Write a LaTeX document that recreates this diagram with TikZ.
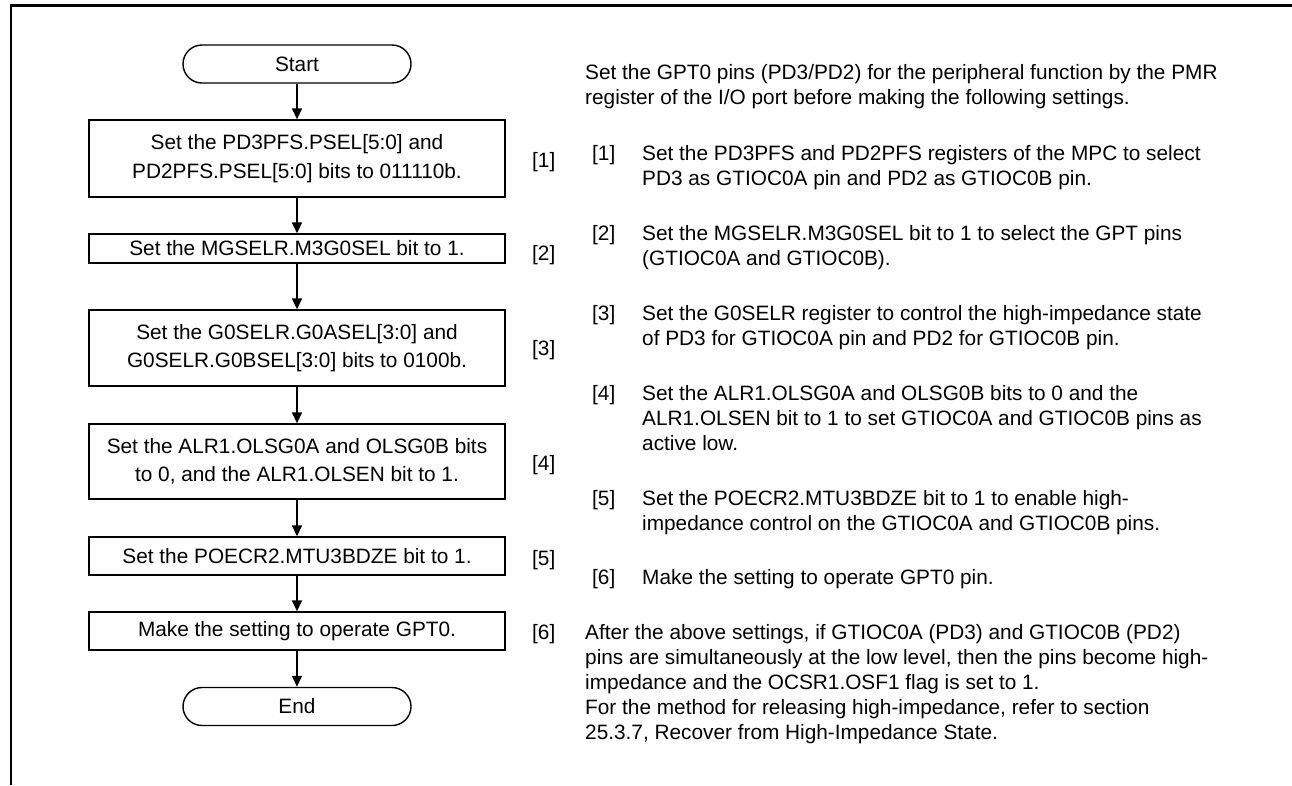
\documentclass[tikz,border=0pt]{standalone}
\usepackage{fontspec}
\setmainfont{Liberation Sans}
\usetikzlibrary{arrows.meta}
\newcommand{\bodyfont}{\fontsize{20.8}{25}\selectfont}
\newcommand{\boxfont}{\fontsize{20.8}{28.5}\selectfont}
\newcommand{\lines}[1]{\begin{tabular}[t]{@{}l@{}}#1\end{tabular}}
\tikzset{
  term/.style={draw, line width=1.4pt, rounded corners=19pt, minimum width=228pt,
    minimum height=38pt, inner sep=0pt, font=\boxfont},
  proc/.style={draw, line width=1.4pt, minimum width=416pt, align=center,
    inner sep=0pt, font=\boxfont},
  flow/.style={-{Triangle[length=11pt,width=10pt]}, line width=1.6pt},
  txt/.style={anchor=base west, inner sep=0pt, font=\bodyfont},
  frame/.style={line width=2.6pt}
}
\begin{document}
\begin{tikzpicture}[x=1pt,y=-1pt]
\useasboundingbox (0,0) rectangle (1292,785);
\draw[frame] (1292,5.5) -- (11,5.5) -- (11,785);

% flowchart
\node[term] (start) at (297,64) {Start};
\node[proc, minimum height=77pt] (b1) at (297,158.5) {Set the PD3PFS.PSEL[5:0] and\\PD2PFS.PSEL[5:0] bits to 011110b.};
\node[proc, minimum height=29pt] (b2) at (297,248.5) {Set the MGSELR.M3G0SEL bit to 1.};
\node[proc, minimum height=76pt] (b3) at (297,348) {Set the G0SELR.G0ASEL[3:0] and\\G0SELR.G0BSEL[3:0] bits to 0100b.};
\node[proc, minimum height=75pt] (b4) at (297,461.5) {Set the ALR1.OLSG0A and OLSG0B bits\\to 0, and the ALR1.OLSEN bit to 1.};
\node[proc, minimum height=38pt] (b5) at (297,556) {Set the POECR2.MTU3BDZE bit to 1.};
\node[proc, minimum height=38pt] (b6) at (297,631) {Make the setting to operate GPT0.};
\node[term] (end) at (297,706.5) {End};

\draw[flow] (start) -- (b1);
\draw[flow] (b1) -- (b2);
\draw[flow] (b2) -- (b3);
\draw[flow] (b3) -- (b4);
\draw[flow] (b4) -- (b5);
\draw[flow] (b5) -- (b6);
\draw[flow] (b6) -- (end);

% step labels beside the flowchart
\node[txt] (l1) at (532,167) {[1]};
\node[txt] (l2) at (532,260) {[2]};
\node[txt] (l3) at (532,355) {[3]};
\node[txt] (l4) at (532,470) {[4]};
\node[txt] (l5) at (532,565) {[5]};
\node[txt] (l6) at (532,639) {[6]};

% explanations
\node[txt] (intro) at (585,79) {\lines{Set the GPT0 pins (PD3/PD2) for the peripheral function by the PMR\\register of the I/O port before making the following settings.}};

\node[txt] (n1) at (592,160) {[1]};
\node[txt] (t1) at (642,160) {\lines{Set the PD3PFS and PD2PFS registers of the MPC to select\\PD3 as GTIOC0A pin and PD2 as GTIOC0B pin.}};
\node[txt] (n2) at (592,240) {[2]};
\node[txt] (t2) at (642,240) {\lines{Set the MGSELR.M3G0SEL bit to 1 to select the GPT pins\\(GTIOC0A and GTIOC0B).}};
\node[txt] (n3) at (592,320) {[3]};
\node[txt] (t3) at (642,320) {\lines{Set the G0SELR register to control the high-impedance state\\of PD3 for GTIOC0A pin and PD2 for GTIOC0B pin.}};
\node[txt] (n4) at (592,400) {[4]};
\node[txt] (t4) at (642,400) {\lines{Set the ALR1.OLSG0A and OLSG0B bits to 0 and the\\ALR1.OLSEN bit to 1 to set GTIOC0A and GTIOC0B pins as\\active low.}};
\node[txt] (n5) at (592,505) {[5]};
\node[txt] (t5) at (642,505) {\lines{Set the POECR2.MTU3BDZE bit to 1 to enable high-\\impedance control on the GTIOC0A and GTIOC0B pins.}};
\node[txt] (n6) at (592,584) {[6]};
\node[txt] (t6) at (642,584) {Make the setting to operate GPT0 pin.};

\node[txt] (t7) at (585,639) {\lines{After the above settings, if GTIOC0A (PD3) and GTIOC0B (PD2)\\pins are simultaneously at the low level, then the pins become high-\\impedance and the OCSR1.OSF1 flag is set to 1.\\For the method for releasing high-impedance, refer to section\\25.3.7, Recover from High-Impedance State.}};
\end{tikzpicture}
\end{document}
